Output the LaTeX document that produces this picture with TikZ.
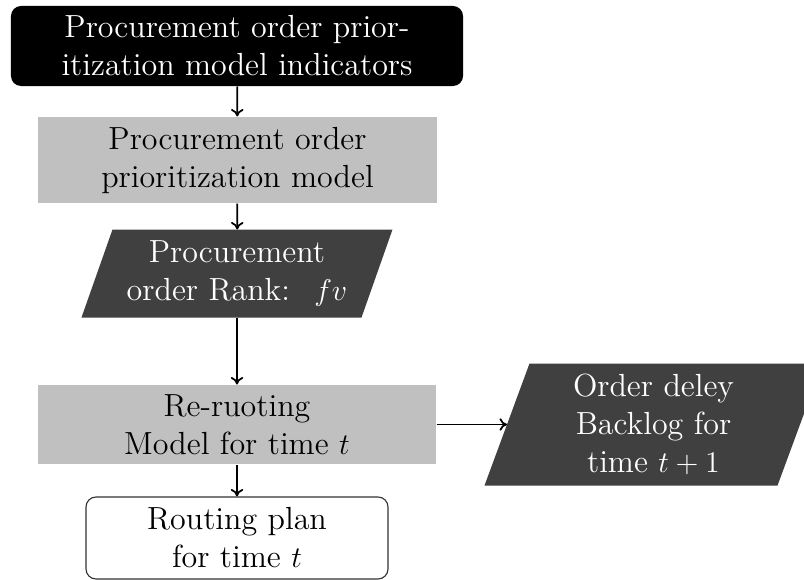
\documentclass[tikz,border=0pt]{standalone}
\usetikzlibrary{backgrounds,arrows.meta}
\definecolor{darkbox}{RGB}{64,64,64}
\definecolor{lightbox}{RGB}{192,192,192}
\tikzset{
  base/.style={inner sep=0pt, align=center, font=\fontsize{12.8}{15.2}\selectfont},
  blackbox/.style={base, fill=black, text=white, rounded corners=4pt},
  graybox/.style={base, fill=lightbox, text=black},
  parabox/.style={base, text=white},
  whitebox/.style={base, draw=black!80, line width=0.45pt, rounded corners=4pt, fill=white},
  conn/.style={-{To[length=3pt,width=5pt]}, line width=0.7pt},
}
\begin{document}
\begin{tikzpicture}[x=0.4pt,y=-0.4pt]
\useasboundingbox (0,0) rectangle (804,579);
\node[blackbox, minimum width=180.8pt, minimum height=32pt] (a) at (237,46)
  {Procurement order prior-\\itization model indicators};
\node[graybox, minimum width=159.6pt, minimum height=34.4pt] (b) at (237.5,160)
  {Procurement order\\prioritization model};
\node[parabox, minimum width=111.6pt, minimum height=34.8pt] (c) at (237,273.5)
  {Procurement\\order Rank: \ $fv$};
\node[graybox, minimum width=159.2pt, minimum height=31.6pt] (d) at (237,424.5)
  {Re-ruoting\\Model for time $t$};
\node[parabox, minimum width=116.8pt, minimum height=48.4pt] (e) at (653.5,424.5)
  {Order deley\\Backlog for\\time $t+1$};
\node[whitebox, minimum width=120.8pt, minimum height=32.8pt] (f) at (237,538)
  {Routing plan\\for time $t$};
\begin{scope}[on background layer]
  \fill[darkbox] ([xshift=-6.2pt]c.south west) -- ([xshift=-6.2pt]c.south east)
    -- ([xshift=6.2pt]c.north east) -- ([xshift=6.2pt]c.north west) -- cycle;
  \fill[darkbox] ([xshift=-9pt]e.south west) -- ([xshift=-9pt]e.south east)
    -- ([xshift=9pt]e.north east) -- ([xshift=9pt]e.north west) -- cycle;
\end{scope}
\draw[conn] (a) -- (b);
\draw[conn] (b) -- (c);
\draw[conn] (c) -- (d);
\draw[conn] (d) -- (e);
\draw[conn] (d) -- (f);
\end{tikzpicture}
\end{document}
